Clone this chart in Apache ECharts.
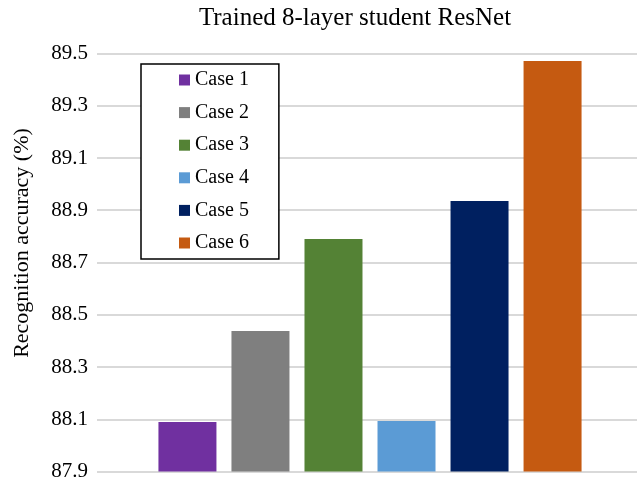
<!DOCTYPE html>
<html>
<head>
<meta charset="utf-8">
<script src="https://cdn.jsdelivr.net/npm/echarts@6/dist/echarts.min.js"></script>
<style>
  html, body { margin: 0; padding: 0; background: #fff; }
  #chart { width: 637px; height: 485px; }
</style>
</head>
<body>
<div id="chart"></div>
<script>
// Recognition accuracy of the trained 8-layer student ResNet, one bar per case
const caseNames = ['Case 1', 'Case 2', 'Case 3', 'Case 4', 'Case 5', 'Case 6'];
const accuracy = [88.089, 88.438, 88.79, 88.093, 88.935, 89.471];
const caseColors = ['#7030a0', '#7f7f7f', '#548235', '#5b9bd5', '#002060', '#c55a11'];
const yTicks = { min: 87.9, max: 89.5, step: 0.2 };

const FONT = '"Liberation Serif", "Times New Roman", serif';

const chart = echarts.init(document.getElementById('chart'), null, { renderer: 'canvas' });

// bars live in grid 1; grid 0 only carries the value labels and gridlines
const series = caseNames.map((name, i) => ({
  name: name,
  type: 'bar',
  xAxisIndex: 1,
  yAxisIndex: 1,
  data: [accuracy[i]],
  barWidth: 58,
  barGap: '25.9%',
  itemStyle: { color: caseColors[i] },
  emphasis: { disabled: true }
}));

const hiddenCategoryAxis = (gridIndex) => ({
  type: 'category',
  gridIndex: gridIndex,
  data: [''],
  axisLine: { show: false },
  axisTick: { show: false },
  axisLabel: { show: false },
  splitLine: { show: false }
});

chart.setOption({
  animation: false,
  backgroundColor: '#ffffff',
  title: {
    text: 'Trained 8-layer student ResNet',
    left: 355,
    textAlign: 'center',
    top: 6,
    padding: 0,
    textStyle: { fontFamily: FONT, fontSize: 25, fontWeight: 'normal', color: '#000' }
  },
  legend: {
    data: caseNames,
    orient: 'vertical',
    left: 141,
    top: 64,
    icon: 'rect',
    itemWidth: 11,
    itemHeight: 11,
    itemGap: 12.6,
    padding: [6, 30, 6, 38],
    borderColor: '#000',
    borderWidth: 1.5,
    backgroundColor: '#fff',
    selectedMode: false,
    z: 10,
    textStyle: { fontFamily: FONT, fontSize: 20, color: '#000', lineHeight: 20 }
  },
  graphic: [{
    type: 'text',
    x: 22,
    y: 243,
    rotation: Math.PI / 2,
    style: {
      text: 'Recognition accuracy (%)',
      font: '22px ' + FONT,
      fill: '#000',
      textAlign: 'center',
      textVerticalAlign: 'middle'
    }
  }],
  grid: [
    { left: 97, right: 0, top: 53.5, bottom: 13.5, containLabel: false },
    { left: 103, right: 0, top: 53.5, bottom: 13.5, containLabel: false }
  ],
  xAxis: [hiddenCategoryAxis(0), hiddenCategoryAxis(1)],
  yAxis: [
    {
      type: 'value',
      gridIndex: 0,
      min: yTicks.min,
      max: yTicks.max,
      interval: yTicks.step,
      axisLine: { show: false },
      axisTick: { show: false },
      axisLabel: {
        margin: 9,
        fontFamily: FONT,
        fontSize: 21,
        color: '#000',
        formatter: v => v.toFixed(1)
      },
      splitLine: { show: true, lineStyle: { color: '#d9d9d9', width: 2 } }
    },
    {
      type: 'value',
      gridIndex: 1,
      min: yTicks.min,
      max: yTicks.max,
      interval: yTicks.step,
      axisLine: { show: false },
      axisTick: { show: false },
      axisLabel: { show: false },
      splitLine: { show: false }
    }
  ],
  series: series
});
</script>
</body>
</html>
